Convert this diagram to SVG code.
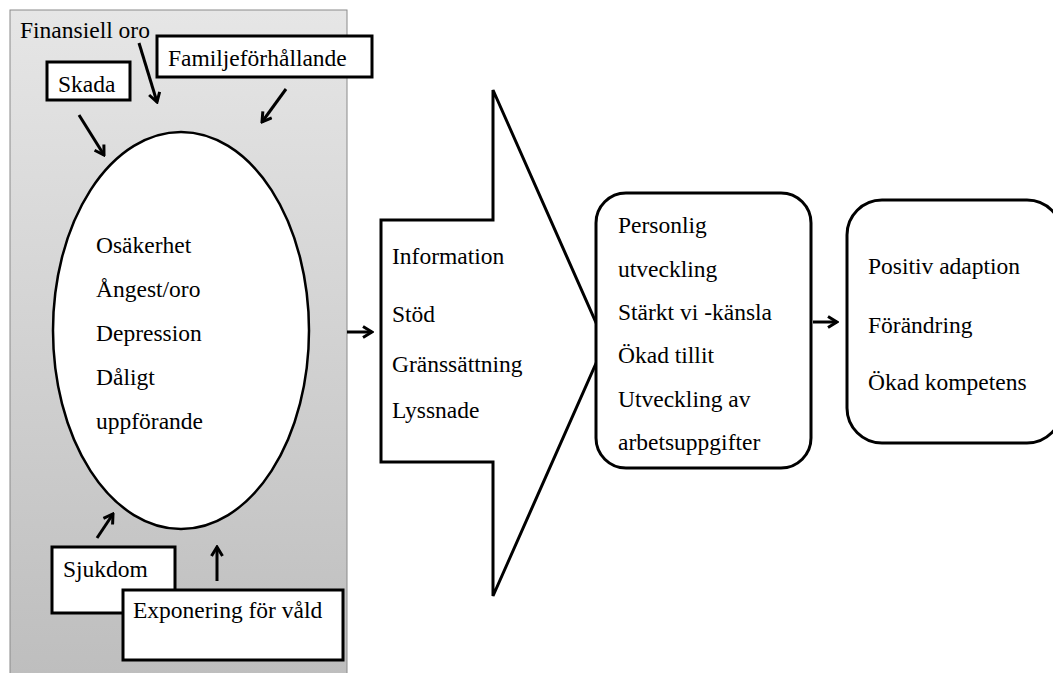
<svg xmlns="http://www.w3.org/2000/svg" width="1053" height="673" viewBox="0 0 1053 673">
<defs>
<linearGradient id="panelGrad" x1="0" y1="0" x2="0" y2="1">
<stop offset="0" stop-color="#e6e6e6"/>
<stop offset="1" stop-color="#bdbdbd"/>
</linearGradient>
<marker id="arr" viewBox="0 0 14 14" refX="12" refY="7" markerWidth="14" markerHeight="14" markerUnits="userSpaceOnUse" orient="auto">
<path d="M3,1.5 L12,7 L3,12.5" fill="none" stroke="#000" stroke-width="3"/>
</marker>
</defs>
<style>
.box{fill:#fff;stroke:#000;stroke-width:3}
.conn{stroke:#000;stroke-width:3;fill:none;marker-end:url(#arr)}
</style>
<rect width="1053" height="673" fill="#fff"/>
<g font-family="Liberation Serif, Times New Roman, serif" font-size="23.5" fill="#000">
<g id="panel">
<rect x="10" y="10" width="337" height="680" fill="url(#panelGrad)" stroke="#8a8a8a" stroke-width="1"/>
</g>
<g id="ellipse-node">
<ellipse cx="181" cy="330.5" rx="128" ry="198.5" fill="#fff" stroke="#000" stroke-width="2.5"/>
<text x="96" y="253">Osäkerhet</text>
<text x="96" y="297">Ångest/oro</text>
<text x="96" y="341">Depression</text>
<text x="96" y="385">Dåligt</text>
<text x="96" y="429">uppförande</text>
</g>
<g id="finansiell">
<text x="20" y="38">Finansiell oro</text>
</g>
<g id="skada">
<rect class="box" x="47" y="62" width="83" height="38"/>
<text x="58" y="92">Skada</text>
</g>
<g id="familj">
<rect class="box" x="157" y="36" width="215" height="41"/>
<text x="168" y="66">Familjeförhållande</text>
</g>
<g id="sjukdom">
<rect class="box" x="52" y="547" width="123" height="66"/>
<text x="63" y="577">Sjukdom</text>
</g>
<g id="exponering">
<rect class="box" x="123" y="590" width="220" height="70"/>
<text x="133" y="618">Exponering för våld</text>
</g>
<g id="insats">
<path d="M381,220 L493,220 L493,90 L605,343 L493,596 L493,462 L381,462 Z" fill="#fff" stroke="#000" stroke-width="3" stroke-linejoin="miter"/>
<text x="392" y="264">Information</text>
<text x="392" y="322">Stöd</text>
<text x="392" y="372">Gränssättning</text>
<text x="392" y="418">Lyssnade</text>
</g>
<g id="utfall">
<rect class="box" x="596" y="193" width="215" height="275" rx="30" ry="30"/>
<text x="618" y="233">Personlig</text>
<text x="618" y="277">utveckling</text>
<text x="618" y="320">Stärkt vi -känsla</text>
<text x="618" y="363">Ökad tillit</text>
<text x="618" y="407">Utveckling av</text>
<text x="618" y="450">arbetsuppgifter</text>
</g>
<g id="resultat">
<rect class="box" x="847" y="200" width="215" height="243" rx="35" ry="35"/>
<text x="868" y="274">Positiv adaption</text>
<text x="868" y="333">Förändring</text>
<text x="868" y="390">Ökad kompetens</text>
</g>
</g>
<g id="connectors">
<line class="conn" x1="139" y1="43" x2="157" y2="102"/>
<line class="conn" x1="79" y1="115" x2="104" y2="155"/>
<line class="conn" x1="286" y1="89" x2="262" y2="122"/>
<line class="conn" x1="97" y1="538" x2="113" y2="514"/>
<line class="conn" x1="217" y1="581" x2="217" y2="547"/>
<line class="conn" x1="347" y1="332" x2="372" y2="332"/>
<line class="conn" x1="813" y1="322" x2="837" y2="322"/>
</g>
</svg>
